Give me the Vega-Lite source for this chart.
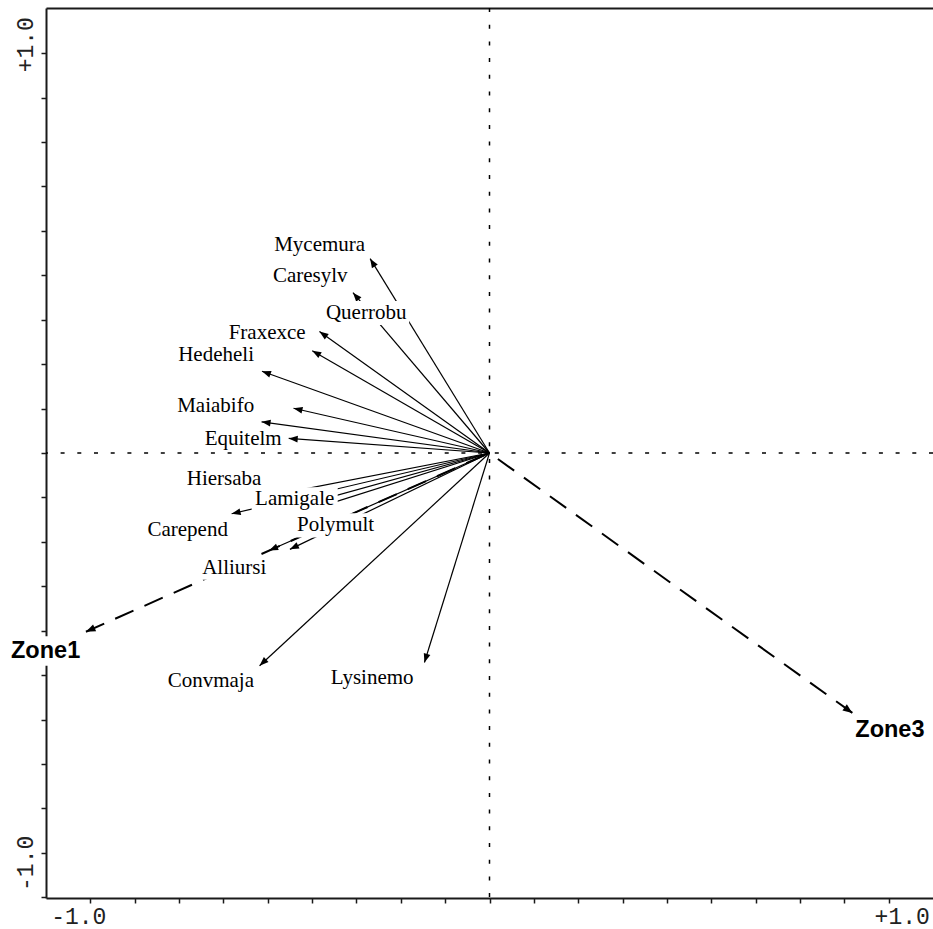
{
  "$schema": "https://vega.github.io/schema/vega-lite/v6.json",
  "width": 887,
  "height": 890,
  "autosize": {"type": "none"},
  "padding": {"left": 46, "top": 8, "right": 0, "bottom": 31},
  "background": "white",
  "config": {
    "view": {"stroke": null},
    "axis": {
      "grid": false,
      "domainColor": "#1a1a1a",
      "domainWidth": 2,
      "tickColor": "#1a1a1a",
      "tickWidth": 1.5,
      "tickSize": 5,
      "labelFont": "Liberation Mono",
      "labelFontSize": 23,
      "labelColor": "#222222",
      "labelFlush": false,
      "labelOverlap": false
    }
  },
  "datasets": {
    "species": [
      {"species": "Mycemura", "x": -0.299, "y": 0.486, "labelX": -0.4255, "labelY": 0.52},
      {"species": "Caresylv", "x": -0.342, "y": 0.401, "labelX": -0.449, "labelY": 0.443},
      {"species": "Querrobu", "x": -0.426, "y": 0.304, "labelX": -0.309, "labelY": 0.35},
      {"species": "Fraxexce", "x": -0.444, "y": 0.256, "labelX": -0.557, "labelY": 0.3},
      {"species": "Hedeheli", "x": -0.57, "y": 0.2045, "labelX": -0.685, "labelY": 0.244},
      {"species": "", "x": -0.491, "y": 0.112},
      {"species": "Maiabifo", "x": -0.571, "y": 0.078, "labelX": -0.686, "labelY": 0.118},
      {"species": "Equitelm", "x": -0.503, "y": 0.0365, "labelX": -0.617, "labelY": 0.0345},
      {"species": "Hiersaba", "x": -0.536, "y": -0.104, "labelX": -0.665, "labelY": -0.066},
      {"species": "Lamigale", "x": -0.473, "y": -0.131, "labelX": -0.488, "labelY": -0.116},
      {"species": "", "x": -0.4355, "y": -0.138},
      {"species": "Carepend", "x": -0.646, "y": -0.152, "labelX": -0.756, "labelY": -0.193},
      {"species": "Polymult", "x": -0.5, "y": -0.241, "labelX": -0.3855, "labelY": -0.181},
      {"species": "Alliursi", "x": -0.552, "y": -0.244, "labelX": -0.6395, "labelY": -0.287},
      {"species": "Convmaja", "x": -0.576, "y": -0.532, "labelX": -0.698, "labelY": -0.571},
      {"species": "Lysinemo", "x": -0.163, "y": -0.524, "labelX": -0.294, "labelY": -0.564}
    ],
    "zones": [
      {"zone": "Zone1", "x": -1.011, "y": -0.447, "labelX": -1.112, "labelY": -0.495},
      {"zone": "Zone3", "x": 0.909, "y": -0.65, "labelX": 1.003, "labelY": -0.693}
    ]
  },
  "resolve": {"axis": {"x": "independent"}},
  "layer": [
    {
      "data": {"name": "species"},
      "mark": {"type": "rule", "color": "black", "strokeWidth": 1.2},
      "encoding": {
        "x": {
          "field": "x", "type": "quantitative", "title": null,
          "scale": {"domain": [-1.111, 1.111], "nice": false, "zero": false},
          "axis": {
            "orient": "bottom",
            "values": [-1.1111, -1, -0.8889, -0.7778, -0.6667, -0.5556, -0.4444, -0.3333, -0.2222, -0.1111, 0, 0.1111, 0.2222, 0.3333, 0.4444, 0.5556, 0.6667, 0.7778, 0.8889, 1],
            "labelExpr": "datum.value == -1 ? '-1.0' : datum.value == 1 ? '+1.0' : ''",
            "labelPadding": 2,
            "labelBaseline": "top",
            "labelOffset": {"condition": {"test": "datum.value < 0", "value": -12}, "value": 13}
          }
        },
        "y": {
          "field": "y", "type": "quantitative", "title": null,
          "scale": {"domain": [-1.113, 1.113], "nice": false, "zero": false},
          "axis": {
            "values": [-1.1111, -1, -0.8889, -0.7778, -0.6667, -0.5556, -0.4444, -0.3333, -0.2222, -0.1111, 0, 0.1111, 0.2222, 0.3333, 0.4444, 0.5556, 0.6667, 0.7778, 0.8889, 1],
            "labelExpr": "datum.value == -1 ? '-1.0' : datum.value == 1 ? '+1.0' : ''",
            "labelAngle": -90,
            "labelAlign": "center",
            "labelBaseline": "bottom",
            "labelPadding": 4,
            "labelOffset": {"condition": {"test": "datum.value < 0", "value": 10}, "value": -9}
          }
        },
        "x2": {"datum": 0},
        "y2": {"datum": 0}
      }
    },
    {
      "data": {"values": [{}]},
      "mark": {"type": "rule", "color": "black", "strokeWidth": 1.5, "strokeDash": [4, 12.7]},
      "encoding": {
        "x": {
          "datum": 0, "type": "quantitative",
          "axis": {"orient": "top", "ticks": false, "labels": false, "domain": true, "title": null}
        }
      }
    },
    {
      "data": {"values": [{}]},
      "mark": {"type": "rule", "color": "black", "strokeWidth": 1.5, "strokeDash": [4, 12.7]},
      "encoding": {
        "y": {"datum": 0, "type": "quantitative"}
      }
    },
    {
      "data": {"name": "zones"},
      "mark": {"type": "rule", "color": "black", "strokeWidth": 2, "strokeDash": [20, 12]},
      "encoding": {
        "x": {"field": "x", "type": "quantitative", "title": null, "axis": null},
        "y": {"field": "y", "type": "quantitative", "title": null},
        "x2": {"datum": 0},
        "y2": {"datum": 0}
      }
    },
    {
      "data": {"name": "species"},
      "transform": [{"calculate": "atan2(datum.x, datum.y) * 180 / PI", "as": "heading"}],
      "mark": {"type": "point", "shape": "M0,0L-0.38,1L0.38,1Z", "filled": true, "color": "black", "opacity": 1, "size": 324, "strokeWidth": 0},
      "encoding": {
        "x": {"field": "x", "type": "quantitative", "title": null, "axis": null},
        "y": {"field": "y", "type": "quantitative", "title": null},
        "angle": {"field": "heading", "type": "quantitative", "scale": null}
      }
    },
    {
      "data": {"name": "zones"},
      "transform": [{"calculate": "atan2(datum.x, datum.y) * 180 / PI", "as": "heading"}],
      "mark": {"type": "point", "shape": "M0,0L-0.4,1L0.4,1Z", "filled": true, "color": "black", "opacity": 1, "size": 361, "strokeWidth": 0},
      "encoding": {
        "x": {"field": "x", "type": "quantitative", "title": null, "axis": null},
        "y": {"field": "y", "type": "quantitative", "title": null},
        "angle": {"field": "heading", "type": "quantitative", "scale": null}
      }
    },
    {
      "data": {"name": "species"},
      "transform": [{"filter": "isValid(datum.labelX)"}],
      "mark": {"type": "point", "shape": "M-1,-0.28L1,-0.28L1,0.28L-1,0.28Z", "filled": true, "color": "white", "opacity": 1, "size": 7396, "strokeWidth": 0},
      "encoding": {
        "x": {"field": "labelX", "type": "quantitative", "title": null, "axis": null},
        "y": {"field": "labelY", "type": "quantitative", "title": null}
      }
    },
    {
      "data": {"name": "zones"},
      "mark": {"type": "point", "shape": "M-1,-0.36L1,-0.36L1,0.36L-1,0.36Z", "filled": true, "color": "white", "opacity": 1, "size": 6724, "strokeWidth": 0},
      "encoding": {
        "x": {"field": "labelX", "type": "quantitative", "title": null, "axis": null},
        "y": {"field": "labelY", "type": "quantitative", "title": null}
      }
    },
    {
      "data": {"name": "species"},
      "transform": [{"filter": "isValid(datum.labelX)"}],
      "mark": {"type": "text", "font": "Liberation Serif", "fontSize": 21, "color": "black", "align": "center", "baseline": "middle"},
      "encoding": {
        "x": {"field": "labelX", "type": "quantitative", "title": null, "axis": null},
        "y": {"field": "labelY", "type": "quantitative", "title": null},
        "text": {"field": "species"}
      }
    },
    {
      "data": {"name": "zones"},
      "mark": {"type": "text", "font": "Liberation Sans", "fontWeight": "bold", "fontSize": 23.5, "color": "black", "align": "center", "baseline": "middle"},
      "encoding": {
        "x": {"field": "labelX", "type": "quantitative", "title": null, "axis": null},
        "y": {"field": "labelY", "type": "quantitative", "title": null},
        "text": {"field": "zone"}
      }
    }
  ]
}
